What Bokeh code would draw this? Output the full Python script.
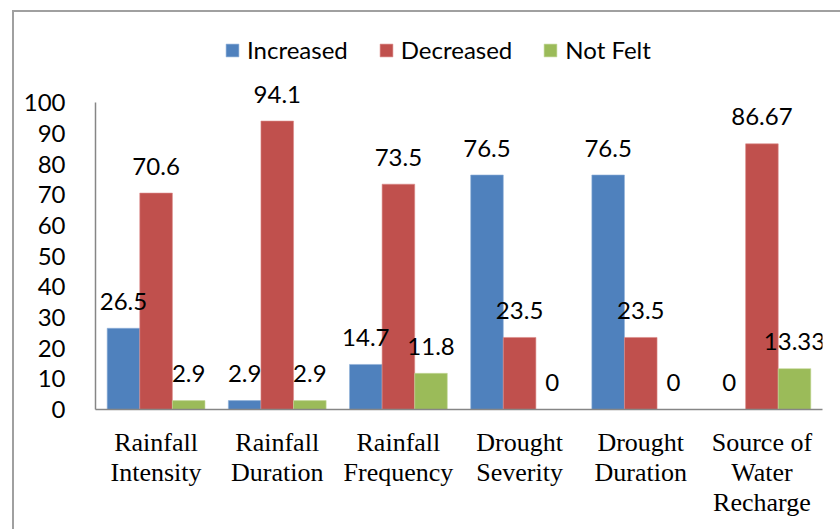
from bokeh.plotting import figure
from bokeh.models import ColumnDataSource, FactorRange, Legend, LegendItem, Range1d
from bokeh.transform import dodge
from bokeh.core.properties import value
from bokeh.embed import file_html
from bokeh.resources import INLINE

categories = ["Rainfall\nIntensity", "Rainfall\nDuration", "Rainfall\nFrequency",
              "Drought\nSeverity", "Drought\nDuration", "Source of\nWater\nRecharge"]
increased = [26.5, 2.9, 14.7, 76.5, 76.5, 0]
decreased = [70.6, 94.1, 73.5, 23.5, 23.5, 86.67]
not_felt = [2.9, 2.9, 11.8, 0, 0, 13.33]
inc_labels = ["26.5", "2.9", "14.7", "76.5", "76.5", "0"]
dec_labels = ["70.6", "94.1", "73.5", "23.5", "23.5", "86.67"]
nf_labels = ["2.9", "2.9", "11.8", "0", "0", "13.33"]
y_ticks = list(range(0, 101, 10))

src = ColumnDataSource(dict(cat=categories, inc=increased, dec=decreased, nf=not_felt,
                            incl=inc_labels, decl=dec_labels, nfl=nf_labels))

p = figure(x_range=FactorRange(*categories, range_padding=0), y_range=Range1d(0, 125.6),
           width=828, height=519, output_backend="svg", toolbar_location=None,
           min_border_left=81, min_border_top=12, min_border_bottom=122, min_border_right=20)
p.styles = {"margin-left": "12px", "margin-top": "10px",
            "border-left": "2px solid #a0a0a0", "border-top": "2px solid #a0a0a0"}
p.outline_line_color = None
p.xgrid.grid_line_color = None
p.ygrid.grid_line_color = None

bw = 0.269
colors = ["#4F81BD", "#C0504D", "#9BBB59"]
r1 = p.vbar(x=dodge("cat", -bw, range=p.x_range), top="inc", width=bw, source=src,
            fill_color=colors[0], line_color="#8fb0d8", line_width=0.6)
r2 = p.vbar(x=dodge("cat", 0, range=p.x_range), top="dec", width=bw, source=src,
            fill_color=colors[1], line_color="#dc8a88", line_width=0.6)
r3 = p.vbar(x=dodge("cat", bw, range=p.x_range), top="nf", width=bw, source=src,
            fill_color=colors[2], line_color="#c4d89b", line_width=0.6)

font = value("Lato")
for off, col, lab in [(-bw, "inc", "incl"), (0, "dec", "decl"), (bw, "nf", "nfl")]:
    p.text(x=dodge("cat", off, range=p.x_range), y=col, text=lab, source=src,
           text_font=font, text_font_size="24px", text_color="#000000",
           text_align="center", text_baseline="middle", y_offset=-27)

p.yaxis.ticker = y_ticks
p.yaxis.bounds = (0, 100)
p.yaxis.axis_line_color = "#868686"
p.yaxis.axis_line_width = 1.5
p.yaxis.major_tick_line_color = None
p.yaxis.minor_tick_line_color = None
p.yaxis.major_label_text_font = "Lato"
p.yaxis.major_label_text_font_size = "24px"
p.yaxis.major_label_text_color = "#000000"
p.yaxis.major_label_standoff = 24

p.xaxis.axis_line_color = "#868686"
p.xaxis.axis_line_width = 1.5
p.xaxis.major_tick_line_color = None
p.xaxis.minor_tick_line_color = None
p.xaxis.major_label_text_font = "Liberation Serif"
p.xaxis.major_label_text_font_size = "26px"
p.xaxis.major_label_text_line_height = 1.04
p.xaxis.major_label_text_color = "#000000"
p.xaxis.major_label_standoff = 12
p.xaxis.major_label_orientation = "horizontal"

legend = Legend(items=[LegendItem(label="Increased", renderers=[r1]),
                       LegendItem(label="Decreased", renderers=[r2]),
                       LegendItem(label="Not Felt", renderers=[r3])],
                orientation="horizontal", location=(129, 345),
                glyph_width=16, glyph_height=16, label_standoff=7, spacing=30,
                padding=0, margin=0, border_line_color=None, background_fill_alpha=0,
                label_text_font="Lato", label_text_font_size="24px", label_text_color="#000000")
p.add_layout(legend, "center")

open("out.html", "w").write(file_html(p, INLINE))
